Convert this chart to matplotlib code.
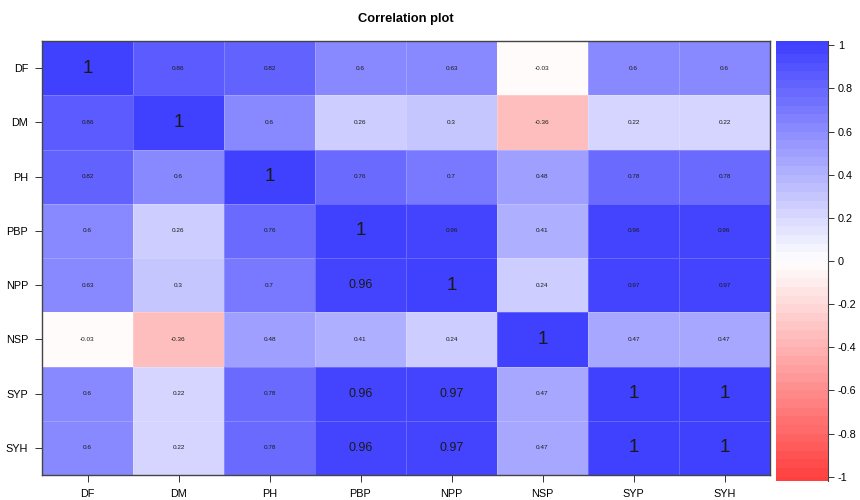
import numpy as np
import matplotlib
matplotlib.use('Agg')
import matplotlib.pyplot as plt
from matplotlib.colors import ListedColormap, BoundaryNorm

plt.rcParams['font.family'] = ['Liberation Sans', 'DejaVu Sans']

traits = ['DF', 'DM', 'PH', 'PBP', 'NPP', 'NSP', 'SYP', 'SYH']

# correlation matrix, rows/cols in trait order
r_df = [1, 0.86, 0.82, 0.6, 0.63, -0.03, 0.6, 0.6]
r_dm = [0.86, 1, 0.6, 0.26, 0.3, -0.36, 0.22, 0.22]
r_ph = [0.82, 0.6, 1, 0.76, 0.7, 0.48, 0.78, 0.78]
r_pbp = [0.6, 0.26, 0.76, 1, 0.96, 0.41, 0.96, 0.96]
r_npp = [0.63, 0.3, 0.7, 0.96, 1, 0.24, 0.97, 0.97]
r_nsp = [-0.03, -0.36, 0.48, 0.41, 0.24, 1, 0.47, 0.47]
r_syp = [0.6, 0.22, 0.78, 0.96, 0.97, 0.47, 1, 1]
r_syh = [0.6, 0.22, 0.78, 0.96, 0.97, 0.47, 1, 1]

cbar_ticks = [1, 0.8, 0.6, 0.4, 0.2, 0, -0.2, -0.4, -0.6, -0.8, -1]


def ramp(v):
    # red -> white -> blue at 75% opacity over white
    v = np.clip(v, -1, 1)
    lo = 0.25
    if v >= 0:
        g = 1 - v * (1 - lo)
        return (g, g, 1.0)
    g = 1 + v * (1 - lo)
    return (1.0, g, g)


def main():
    corr = np.array([r_df, r_dm, r_ph, r_pbp, r_npp, r_nsp, r_syp, r_syh])
    n = len(traits)

    edges = np.round(np.arange(-1.04, 1.0401, 0.04), 2)
    mids = (edges[:-1] + edges[1:]) / 2
    cmap = ListedColormap([ramp(m) for m in mids])
    norm = BoundaryNorm(edges, cmap.N)

    fig = plt.figure(figsize=(8.6, 5.0), dpi=100)
    ax = fig.add_axes([42 / 860, 1 - 475 / 500, 728 / 860, 434 / 500])
    cax = fig.add_axes([776 / 860, 1 - 481 / 500, 52 / 860, 440 / 500])

    ax.pcolormesh(np.arange(n + 1), np.arange(n + 1), corr, cmap=cmap,
                  norm=norm, edgecolors=(1, 1, 1, 0.2), linewidth=0.6)
    ax.set_xlim(0, n)
    ax.set_ylim(n, 0)

    for i in range(n):
        for j in range(n):
            v = corr[i, j]
            if v == 1:
                fs = 13.5
            elif i > j and v >= 0.95:
                fs = 9
            else:
                fs = 4.6
            ax.text(j + 0.5, i + 0.5, '%g' % v, ha='center', va='center',
                    fontsize=fs, color='#1a1a1a')

    ax.set_xticks(np.arange(n) + 0.5)
    ax.set_yticks(np.arange(n) + 0.5)
    ax.set_xticklabels(traits, fontsize=7.8)
    ax.set_yticklabels(traits, fontsize=7.8)
    ax.tick_params(length=5, width=0.7, color='#333333', pad=5)
    for s in ax.spines.values():
        s.set_color('#444444')
        s.set_linewidth(1.0)

    ax.set_title('Correlation plot', fontsize=9.3, fontweight='bold', pad=14)

    # colour key
    cax.pcolormesh([0, 1], edges, mids.reshape(-1, 1), cmap=cmap, norm=norm)
    cax.set_xlim(0, 1)
    cax.set_ylim(-1.02, 1.02)
    cax.set_xticks([])
    cax.yaxis.tick_right()
    cax.set_yticks(cbar_ticks)
    cax.set_yticklabels(['%g' % t for t in cbar_ticks], fontsize=7.8)
    cax.tick_params(length=4, width=0.7, color='#333333', pad=3)
    for k in ['top', 'bottom', 'left']:
        cax.spines[k].set_visible(False)
    cax.spines['right'].set_color('#444444')
    cax.spines['right'].set_linewidth(0.8)

    fig.savefig('out.png', dpi=100)


main()
